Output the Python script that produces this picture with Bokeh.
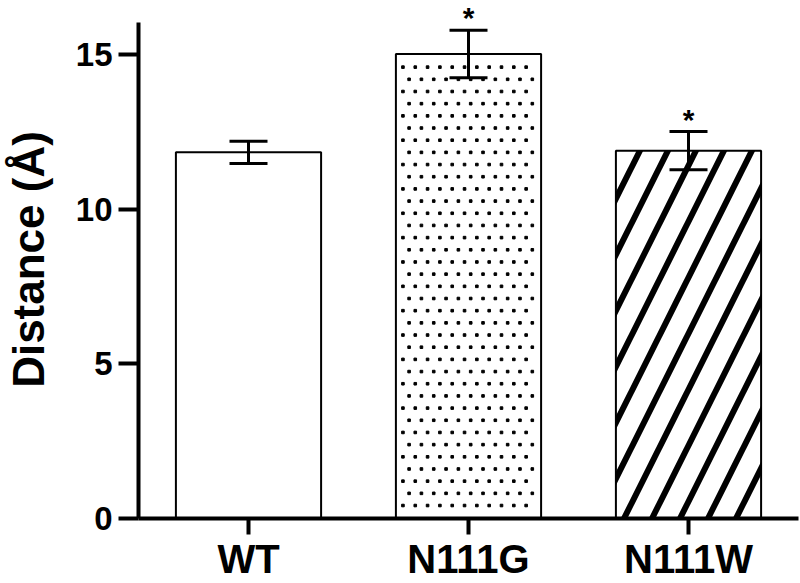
from bokeh.plotting import figure
from bokeh.models import ColumnDataSource, Range1d, FactorRange, Whisker, TeeHead
from bokeh.core.properties import value
from bokeh.embed import file_html
from bokeh.resources import INLINE

categories = ["WT", "N111G", "N111W"]
means = [11.85, 15.03, 11.90]
errors = [0.36, 0.77, 0.62]
marks = ["", "*", "*"]
fills = ["plain", "dots", "stripes"]
y_ticks = [0, 5, 10, 15]

BAR_W = 0.66
STAR_GAP = 0.40  # gap between the error cap and the asterisk, in axis units
upper = [m + e for m, e in zip(means, errors)]
lower = [m - e for m, e in zip(means, errors)]
star_y = [u + STAR_GAP for u in upper]
hatch_map = {"plain": " ", "dots": " ", "stripes": "/"}

src = ColumnDataSource(dict(
    x=categories, top=means, upper=upper, lower=lower, mark=marks, star_y=star_y,
    hatch=[hatch_map[f] for f in fills],
))

# stippled fill for the "dots" bar: staggered grid, ~12 px pitch
STEP_X = 0.056
STEP_Y = 0.394
dot_x, dot_y = [], []
for i, (f, m) in enumerate(zip(fills, means)):
    if f != "dots":
        continue
    left = i + 0.5 - BAR_W / 2
    right = i + 0.5 + BAR_W / 2
    j = 0
    y = 0.42
    while y < m - 0.25:
        x = left + 0.032 + (STEP_X / 2 if j % 2 else 0.0)
        while x < right - 0.015:
            dot_x.append(x)
            dot_y.append(y)
            x += STEP_X
        y += STEP_Y
        j += 1

FONT = "Liberation Sans"

p = figure(
    x_range=FactorRange(*categories), y_range=Range1d(0, 16.76),
    width=800, height=583, output_backend="svg", toolbar_location=None,
    min_border_left=138, min_border_right=2, min_border_top=0, min_border_bottom=60,
)
p.outline_line_color = None
p.xgrid.grid_line_color = None
p.ygrid.grid_line_color = None

p.vbar(x="x", top="top", width=BAR_W, source=src, fill_color="white",
       line_color="black", line_width=2, hatch_pattern="hatch",
       hatch_scale=56, hatch_weight=6, hatch_color="black")

p.scatter(x=dot_x, y=dot_y, marker="square", size=2.6, color="black")

w = Whisker(source=src, base="x", upper="upper", lower="lower",
            line_width=3, line_color="black", level="overlay",
            upper_head=TeeHead(size=38, line_width=3, line_color="black"),
            lower_head=TeeHead(size=38, line_width=3, line_color="black"))
p.add_layout(w)

p.text(x="x", y="star_y", text="mark", source=src, text_font=value(FONT),
       text_font_size="30px", text_font_style="bold", text_align="center",
       text_baseline="middle", text_color="black")

for ax in (p.xaxis[0], p.yaxis[0]):
    ax.axis_line_width = 4
    ax.axis_line_color = "black"
    ax.major_tick_line_width = 4
    ax.major_tick_line_color = "black"
    ax.major_tick_in = 0
    ax.minor_tick_in = 0
    ax.minor_tick_out = 0
    ax.major_label_text_font = FONT
    ax.major_label_text_font_style = "bold"
    ax.major_label_text_color = "black"

xa = p.xaxis[0]
xa.major_tick_out = 16
xa.major_label_text_font_size = "40px"
xa.major_label_text_line_height = 0.9
xa.major_label_standoff = 2

ya = p.yaxis[0]
ya.ticker = y_ticks
ya.bounds = (0, 16.05)
ya.major_tick_out = 20
ya.major_label_text_font_size = "33px"
ya.major_label_standoff = 6
ya.axis_label = "Distance (Å)"
ya.axis_label_text_font = FONT
ya.axis_label_text_font_size = "44px"
ya.axis_label_text_font_style = "bold"
ya.axis_label_text_color = "black"
ya.axis_label_standoff = 20

open("out.html", "w").write(file_html(p, INLINE))
